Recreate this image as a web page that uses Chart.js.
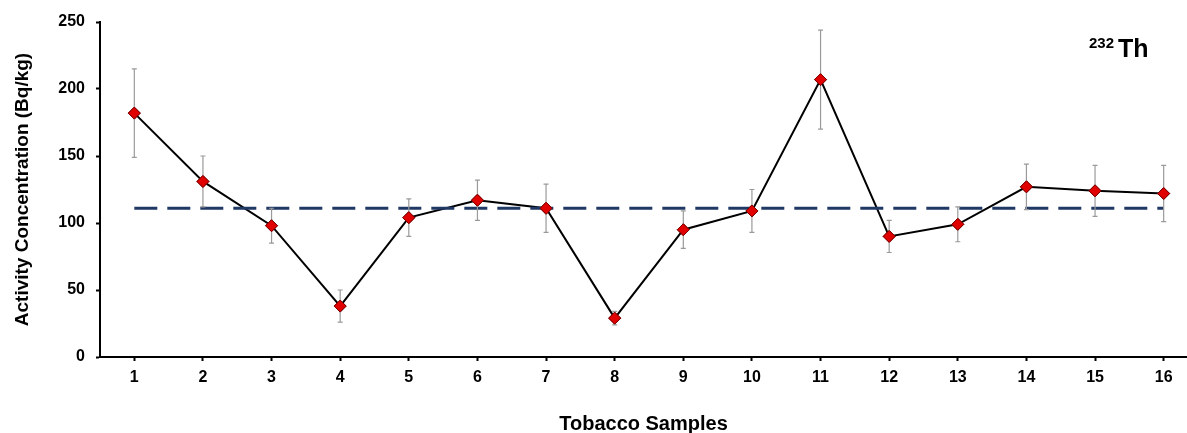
<!DOCTYPE html>
<html>
<head>
<meta charset="utf-8">
<script src="https://cdn.jsdelivr.net/npm/chart.js@4.4.1/dist/chart.umd.min.js"></script>
<style>
  html, body { margin: 0; padding: 0; background: #fff; }
  #wrap { width: 1187px; height: 433px; position: relative; }
</style>
</head>
<body>
<div id="wrap"><canvas id="myChart"></canvas></div>
<script>
// sample numbers on the x axis
const samples = [1, 2, 3, 4, 5, 6, 7, 8, 9, 10, 11, 12, 13, 14, 15, 16];
// 232Th activity concentration (Bq/kg)
const activity = [182, 131, 98, 38, 104, 117, 111, 29, 95, 109, 207, 90, 99, 127, 124, 122];
// error bar half widths
const errors = [33, 19, 13, 12, 14, 15, 18, 5, 14, 16, 37, 12, 13, 17, 19, 21];
// mean value shown as dashed line
const meanValue = 111;
const yTicks = [0, 50, 100, 150, 200, 250];

const errorBars = {
    id: 'errorBars',
    afterDatasetsDraw: (chart) => {
        const ctx = chart.ctx;
        const xs = chart.scales.x;
        const ys = chart.scales.y;
        ctx.save();
        ctx.strokeStyle = '#9a9a9a';
        ctx.lineWidth = 1.2;
        samples.forEach((s, i) => {
            const x = xs.getPixelForValue(s);
            const top = ys.getPixelForValue(activity[i] + errors[i]);
            const bot = ys.getPixelForValue(activity[i] - errors[i]);
            ctx.beginPath();
            ctx.moveTo(x, top); ctx.lineTo(x, bot);
            ctx.moveTo(x - 2.5, top); ctx.lineTo(x + 2.5, top);
            ctx.moveTo(x - 2.5, bot); ctx.lineTo(x + 2.5, bot);
            ctx.stroke();
        });
        ctx.restore();
    }
};

// redraw the points on top of the error bars, then the isotope label
const pointsOnTop = {
    id: 'pointsOnTop',
    afterDraw: (chart) => {
        const meta = chart.getDatasetMeta(1);
        chart.ctx.save();
        meta.data.forEach((p) => p.draw(chart.ctx, chart.chartArea));
        chart.ctx.restore();

        const ctx = chart.ctx;
        ctx.save();
        ctx.fillStyle = '#000';
        ctx.textBaseline = 'alphabetic';
        ctx.font = 'bold 15px "Liberation Sans", Arial, sans-serif';
        ctx.fillText('232', 1089, 48);
        ctx.font = 'bold 25px "Liberation Sans", Arial, sans-serif';
        ctx.fillText('Th', 1118, 57);
        ctx.restore();
    }
};

const renderChart = () => {
    var ctx = document.getElementById('myChart').getContext('2d');
    new Chart(ctx, {
        type: 'line',
        data: {
            datasets: [{
                label: 'Mean',
                data: [samples[0], samples[samples.length - 1]].map((s) => ({x: s, y: meanValue})),
                borderColor: '#1f3864',
                borderWidth: 3,
                borderDash: [23, 10],
                pointRadius: 0
            }, {
                label: '232Th',
                data: samples.map((s, i) => ({x: s, y: activity[i]})),
                borderColor: '#000',
                borderWidth: 2,
                pointStyle: 'rectRot',
                pointRadius: 6,
                pointBackgroundColor: '#e00000',
                pointBorderColor: '#7a0000',
                pointBorderWidth: 1
            }]
        },
        options: {
            responsive: false,
            animation: false,
            layout: { autoPadding: false, padding: { top: 22, right: 0, left: 0, bottom: 0 } },
            plugins: {
                legend: { display: false },
                tooltip: { enabled: false }
            },
            scales: {
                x: {
                    type: 'linear',
                    min: 0.5,
                    max: 16.34,
                    afterBuildTicks: (scale) => { scale.ticks = samples.map((v) => ({value: v})); },
                    afterFit: (scale) => { scale.height = 76; scale.paddingLeft = 0; scale.paddingRight = 0; },
                    ticks: {
                        color: '#000',
                        font: { family: '"Liberation Sans", Arial, sans-serif', size: 16, weight: 'bold' },
                        padding: 7,
                        maxRotation: 0
                    },
                    grid: { drawOnChartArea: false, drawTicks: true, tickLength: 4, color: '#000', tickWidth: 2 },
                    border: { display: true, color: '#000', width: 2 },
                    title: {
                        display: true,
                        text: 'Tobacco Samples',
                        color: '#000',
                        font: { family: '"Liberation Sans", Arial, sans-serif', size: 20, weight: 'bold' },
                        padding: { top: 0, bottom: -3 }
                    }
                },
                y: {
                    min: 0,
                    max: 250,
                    afterBuildTicks: (scale) => { scale.ticks = yTicks.map((v) => ({value: v})); },
                    afterFit: (scale) => { scale.width = 100; },
                    ticks: {
                        color: '#000',
                        font: { family: '"Liberation Sans", Arial, sans-serif', size: 16, weight: 'bold' },
                        padding: 11
                    },
                    grid: { drawOnChartArea: false, drawTicks: true, tickLength: 4, color: '#000', tickWidth: 2 },
                    border: { display: true, color: '#000', width: 2 },
                    title: {
                        display: true,
                        text: 'Activity Concentration (Bq/kg)',
                        color: '#000',
                        font: { family: '"Liberation Sans", Arial, sans-serif', size: 19, weight: 'bold' },
                        padding: { top: 11, bottom: 0 }
                    }
                }
            }
        },
        plugins: [errorBars, pointsOnTop]
    });
};

const c = document.getElementById('myChart');
c.width = 1187;
c.height = 433;
renderChart();
</script>
</body>
</html>
